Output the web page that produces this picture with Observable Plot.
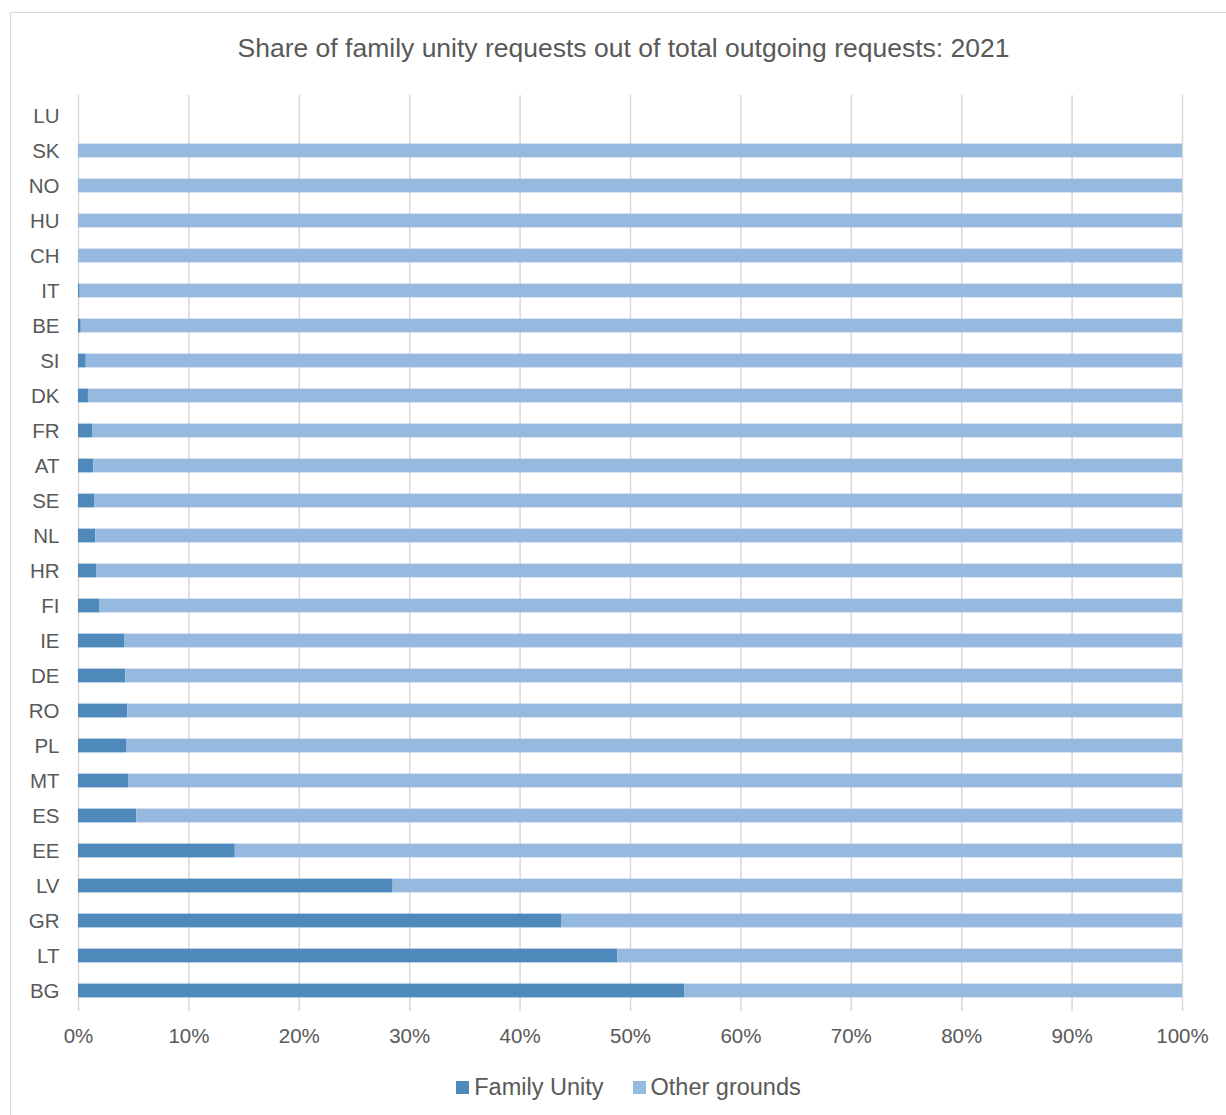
<!DOCTYPE html>
<html>
<head>
<meta charset="utf-8">
<script src="https://cdn.jsdelivr.net/npm/d3@7"></script>
<script src="https://cdn.jsdelivr.net/npm/@observablehq/plot@0.6"></script>
<style>
  html, body { margin: 0; padding: 0; background: #fff; }
  body { width: 1226px; height: 1115px; overflow: hidden; position: relative;
         font-family: "Liberation Sans", Arial, sans-serif; color: #595959; }
  #frame { position: absolute; left: 10px; top: 12px; width: 1240px; height: 1130px;
           border: 1px solid #d9d9d9; box-sizing: border-box; }
  #title { position: absolute; left: 0; width: 1247px; top: 32px; text-align: center;
           font-size: 26.5px; line-height: 32px; white-space: nowrap; }
  #chart { position: absolute; left: 0; top: 80px; }
  #legend { position: absolute; top: 1073px; left: 0; width: 1257px; display: flex;
            justify-content: center; font-size: 23.5px; line-height: 28px; }
  .item { display: flex; align-items: center; margin: 0 14.5px; }
  .sw { width: 13px; height: 13px; margin-right: 5px; }
</style>
</head>
<body>
<div id="frame"></div>
<div id="title">Share of family unity requests out of total outgoing requests: 2021</div>
<div id="chart"></div>
<div id="legend"></div>
<script>
// Member states, top row first (LU reported no outgoing requests)
const countries = ["LU","SK","NO","HU","CH","IT","BE","SI","DK","FR","AT","SE","NL",
                   "HR","FI","IE","DE","RO","PL","MT","ES","EE","LV","GR","LT","BG"];

// Share of family unity requests (%), null where no requests were sent
const familyUnity = [null, 0, 0, 0, 0, 0.15, 0.25, 0.7, 0.9, 1.27, 1.38, 1.45, 1.57,
                     1.63, 1.9, 4.17, 4.29, 4.47, 4.35, 4.53, 5.28, 14.2, 28.5, 43.75, 48.85, 54.9];

// Share of requests on other grounds (%)
const otherGrounds = [null, 100, 100, 100, 100, 99.85, 99.75, 99.3, 99.1, 98.73, 98.62, 98.55, 98.43,
                      98.37, 98.1, 95.83, 95.71, 95.53, 95.65, 95.47, 94.72, 85.8, 71.5, 56.25, 51.15, 45.1];

const series = ["Family Unity", "Other grounds"];
const colors = ["#4f89bc", "#96b9df"];
const xTicks = [0, 10, 20, 30, 40, 50, 60, 70, 80, 90, 100];

const rows = [];
series.forEach((s, k) => {
  const vals = k === 0 ? familyUnity : otherGrounds;
  countries.forEach((c, i) => {
    if (vals[i] != null) rows.push({country: c, ground: s, value: vals[i]});
  });
});

const chart = Plot.plot({
  width: 1226,
  height: 976,
  marginTop: 15,
  marginBottom: 45,
  marginLeft: 78,
  marginRight: 44,
  style: {fontFamily: "'Liberation Sans', Arial, sans-serif", fontSize: "20.5px", color: "#595959", background: "transparent"},
  x: {domain: [0, 100], ticks: xTicks, tickFormat: d => d + "%", label: null},
  y: {domain: countries, padding: 0, label: null},
  color: {domain: series, range: colors},
  marks: [
    Plot.gridX(xTicks, {stroke: "#d9d9d9", strokeOpacity: 1, strokeWidth: 1.5}),
    Plot.barX(rows, Plot.stackX({x: "value", y: "country", fill: "ground", insetTop: 10.6, insetBottom: 10.6})),
    Plot.axisX(xTicks, {tickSize: 0, tickPadding: 17, tickFormat: d => d + "%", fill: "#595959", label: null}),
    Plot.axisY({tickSize: 0, tickPadding: 19, fill: "#595959", label: null})
  ]
});
document.getElementById("chart").appendChild(chart);

const legend = document.getElementById("legend");
series.forEach((s, k) => {
  const item = document.createElement("div");
  item.className = "item";
  const sw = document.createElement("div");
  sw.className = "sw";
  sw.style.background = colors[k];
  item.appendChild(sw);
  const t = document.createElement("span");
  t.textContent = s;
  item.appendChild(t);
  legend.appendChild(item);
});
</script>
</body>
</html>
